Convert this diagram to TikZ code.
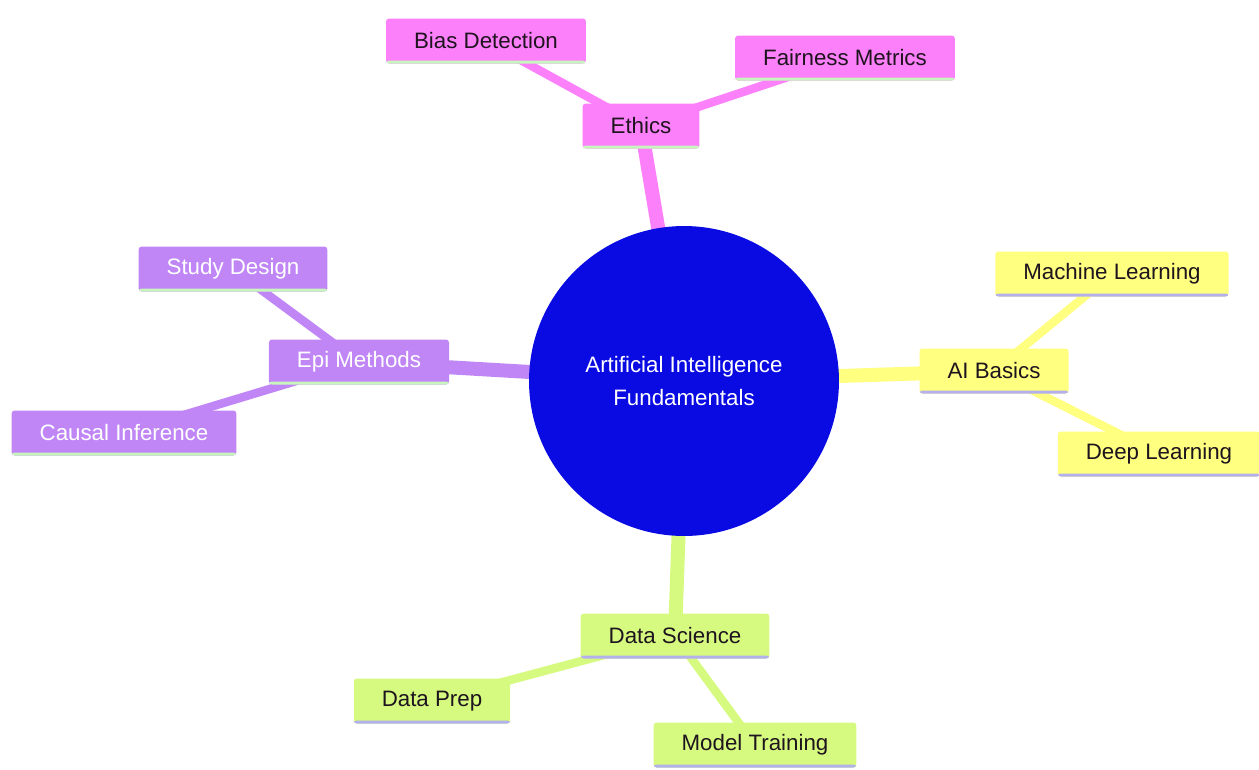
\documentclass[tikz,border=0pt]{standalone}
\usepackage{fontspec}
\setmainfont{Liberation Sans}
\usetikzlibrary{backgrounds}

\definecolor{rootblue}{RGB}{10,10,226}
\definecolor{ethpink}{RGB}{252,128,250}
\definecolor{epipurple}{RGB}{192,134,246}
\definecolor{aiyellow}{RGB}{255,255,128}
\definecolor{dsgreen}{RGB}{214,250,128}
\definecolor{mintline}{RGB}{200,245,190}
\definecolor{lavline}{RGB}{180,176,236}
\definecolor{darktext}{RGB}{30,20,30}

\begin{document}
\begin{tikzpicture}[x=0.02cm, y=-0.02cm,
    leaf/.style={rectangle, rounded corners=1.7pt, minimum height=0.9cm,
      inner xsep=0.56cm, font=\fontsize{12.7}{15}\selectfont},
    underline/.style={path picture={\fill[#1]
      ([yshift=0.06cm]path picture bounding box.south west)
      rectangle (path picture bounding box.south east);}},
    ethbox/.style={leaf, fill=ethpink, text=darktext, underline=mintline},
    epibox/.style={leaf, fill=epipurple, text=white, underline=mintline},
    aibox/.style={leaf, fill=aiyellow, text=darktext, underline=lavline},
    dsbox/.style={leaf, fill=dsgreen, text=darktext, underline=lavline},
    trunk/.style={line width=0.28cm},
    twig/.style={line width=0.17cm}]

    \useasboundingbox (0,0) rectangle (1259,769);

    % centre
    \node (root) at (684,381) [circle, fill=rootblue, text=white,
      minimum size=6.2cm, align=center,
      font=\fontsize{12.7}{19.3}\selectfont]
      {Artificial Intelligence\\Fundamentals};

    % ethics
    \node (ethics) at (641,126) [ethbox] {Ethics};
    \node (bias) at (486,41) [ethbox] {Bias Detection};
    \node (fair) at (845,58) [ethbox] {Fairness Metrics};

    % epi methods
    \node (epi) at (359,362) [epibox] {Epi Methods};
    \node (study) at (233,269) [epibox] {Study Design};
    \node (causal) at (124,433) [epibox] {Causal Inference};

    % ai basics
    \node (ai) at (994,371) [aibox] {AI Basics};
    \node (ml) at (1112,274) [aibox] {Machine Learning};
    \node (dl) at (1159,454) [aibox] {Deep Learning};

    % data science
    \node (ds) at (675,636) [dsbox] {Data Science};
    \node (prep) at (432,701) [dsbox] {Data Prep};
    \node (train) at (755,745) [dsbox] {Model Training};

    \begin{scope}[on background layer]
      \draw [trunk, ethpink] (root.center) -- (ethics.center);
      \draw [twig, ethpink] (ethics.center) -- (bias.center);
      \draw [twig, ethpink] (ethics.center) -- (fair.center);

      \draw [trunk, epipurple] (root.center) -- (epi.center);
      \draw [twig, epipurple] (epi.center) -- (study.center);
      \draw [twig, epipurple] (epi.center) -- (causal.center);

      \draw [trunk, aiyellow] (root.center) -- (ai.center);
      \draw [twig, aiyellow] (ai.center) -- (ml.center);
      \draw [twig, aiyellow] (ai.center) -- (dl.center);

      \draw [trunk, dsgreen] (root.center) -- (ds.center);
      \draw [twig, dsgreen] (ds.center) -- (prep.center);
      \draw [twig, dsgreen] (ds.center) -- (train.center);
    \end{scope}

\end{tikzpicture}
\end{document}
